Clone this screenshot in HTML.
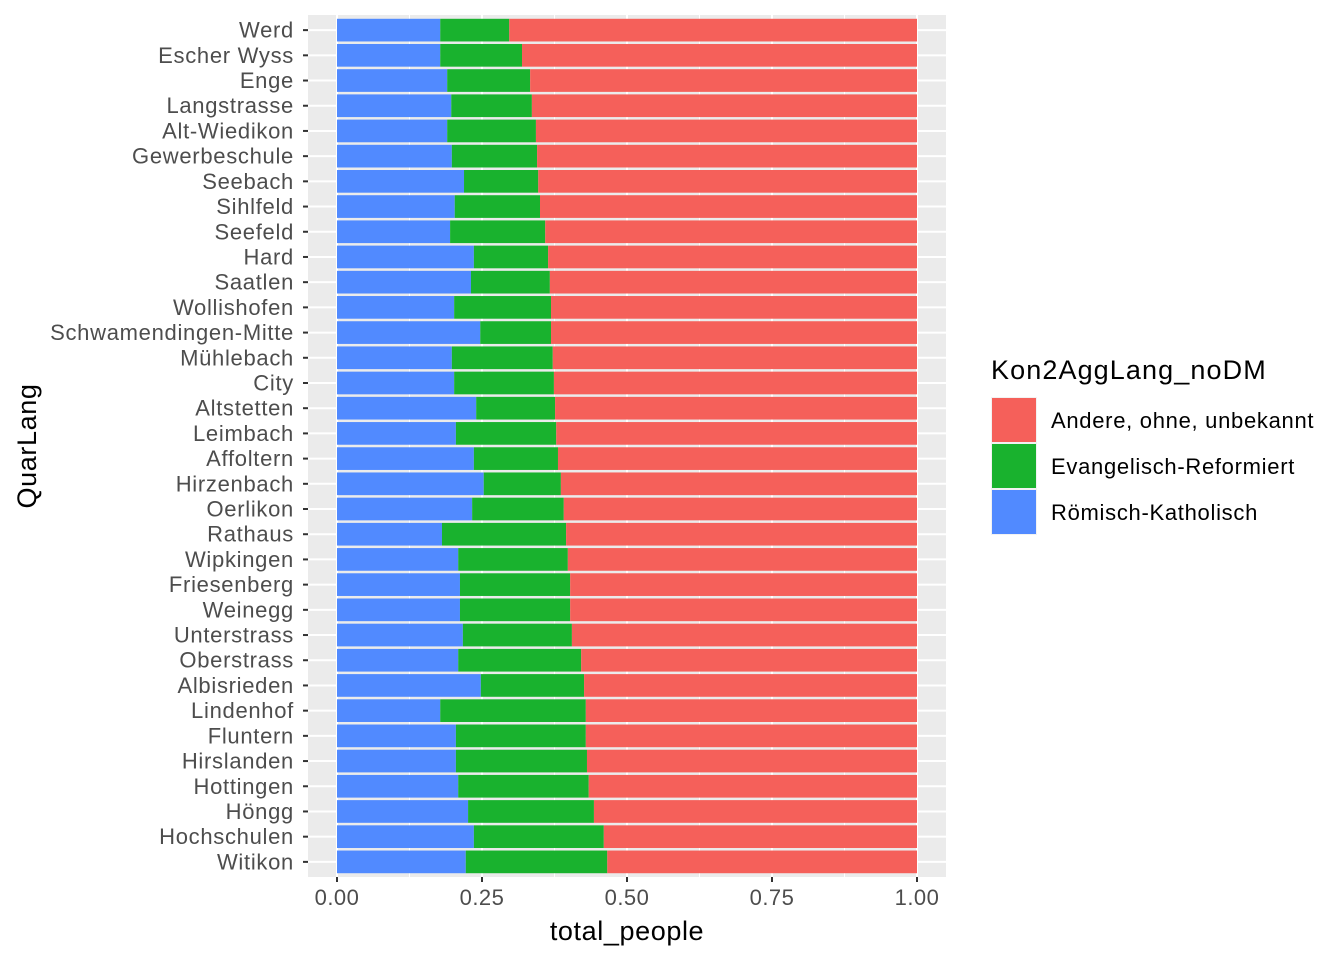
<!DOCTYPE html>
<html><head><meta charset="utf-8"><style>
body{margin:0;background:#fff;}
svg text{font-family:"Liberation Sans",Arial,sans-serif;}
</style></head><body>
<svg id="chart" width="1344" height="960" xmlns="http://www.w3.org/2000/svg"></svg>
<script>
const categories=["Werd","Escher Wyss","Enge","Langstrasse","Alt-Wiedikon","Gewerbeschule","Seebach","Sihlfeld","Seefeld","Hard","Saatlen","Wollishofen","Schwamendingen-Mitte","Mühlebach","City","Altstetten","Leimbach","Affoltern","Hirzenbach","Oerlikon","Rathaus","Wipkingen","Friesenberg","Weinegg","Unterstrass","Oberstrass","Albisrieden","Lindenhof","Fluntern","Hirslanden","Hottingen","Höngg","Hochschulen","Witikon"];
const katholisch=[0.178,0.178,0.190,0.197,0.190,0.198,0.219,0.203,0.195,0.236,0.231,0.202,0.247,0.198,0.202,0.240,0.205,0.236,0.253,0.233,0.181,0.209,0.212,0.212,0.217,0.209,0.248,0.178,0.205,0.205,0.209,0.226,0.236,0.222];
const reformiert=[0.119,0.141,0.143,0.139,0.153,0.147,0.128,0.147,0.164,0.128,0.136,0.167,0.122,0.174,0.172,0.136,0.173,0.145,0.133,0.158,0.214,0.189,0.190,0.190,0.188,0.212,0.178,0.251,0.224,0.226,0.225,0.217,0.224,0.244];
const xTicks=[0,0.25,0.5,0.75,1];
const xTickLabels=["0.00","0.25","0.50","0.75","1.00"];
const legendLabels=["Andere, ohne, unbekannt","Evangelisch-Reformiert","Römisch-Katholisch"];
const redC="#F5605A",greenC="#19B22E",blueC="#518AFF";
const svg=document.getElementById('chart');const NS="http://www.w3.org/2000/svg";
function mk(t,a,p){const e=document.createElementNS(NS,t);for(const k in a)e.setAttribute(k,a[k]);(p||svg).appendChild(e);return e;}
const PL=308,PR=946,PT=15,PB=877;
const x=v=>337+v*580;
const band=(PB-PT)/(categories.length-1+1.2);
const y=i=>PT+(0.6+i)*band;
const bg=mk('rect',{x:PL,y:PT,width:PR-PL,height:PB-PT,fill:'#EBEBEB'});


[0.125,0.375,0.625,0.875].forEach(v=>{mk('line',{x1:x(v),x2:x(v),y1:PT,y2:PB,stroke:'#fff','stroke-width':1});});
xTicks.forEach(v=>{mk('line',{x1:x(v),x2:x(v),y1:PT,y2:PB,stroke:'#fff','stroke-width':2});});
categories.forEach((c,i)=>{mk('line',{x1:PL,x2:PR,y1:y(i),y2:y(i),stroke:'#fff','stroke-width':2});});
const bh=band*0.9;
categories.forEach((c,i)=>{
  const k=katholisch[i],r=reformiert[i],yy=y(i)-bh/2;
  let e=mk('rect',{x:x(0),y:yy,width:x(k)-x(0),height:bh,fill:blueC});
  
  
  e=mk('rect',{x:x(k),y:yy,width:x(k+r)-x(k),height:bh,fill:greenC});
  
  
  e=mk('rect',{x:x(k+r),y:yy,width:x(1)-x(k+r),height:bh,fill:redC});
  
  
  mk('line',{x1:PL-5,x2:PL,y1:y(i),y2:y(i),stroke:'#333','stroke-width':2});
  const t=mk('text',{x:PL-14,y:y(i)+7.5,'text-anchor':'end','font-size':22,'letter-spacing':0.7,fill:'#4D4D4D'});t.textContent=c;
  
  
});
xTicks.forEach((v,i)=>{
  mk('line',{x1:x(v),x2:x(v),y1:PB,y2:PB+5,stroke:'#333','stroke-width':2});
  const t=mk('text',{x:x(v),y:PB+28,'text-anchor':'middle','font-size':22,'letter-spacing':0.5,fill:'#4D4D4D'});t.textContent=xTickLabels[i];
  
  
});
let t=mk('text',{x:(PL+PR)/2,y:940,'text-anchor':'middle','font-size':27,'letter-spacing':0.6,fill:'#000'});t.textContent='total_people';


t=mk('text',{x:0,y:0,'text-anchor':'middle','font-size':27,'letter-spacing':0.6,fill:'#000',transform:`translate(36,${(PT+PB)/2}) rotate(-90)`});t.textContent='QuarLang';


t=mk('text',{x:991,y:379,'font-size':27,'letter-spacing':1.1,fill:'#000'});t.textContent='Kon2AggLang_noDM';


[redC,greenC,blueC].forEach((c,i)=>{
  const yy=397+i*46;
  mk('rect',{x:991,y:yy,width:46,height:46,fill:'#F2F2F2'});
  const r=mk('rect',{x:992,y:yy+1,width:44,height:44,fill:c});
  
  
  const l=mk('text',{x:1051,y:yy+31,'font-size':22,'letter-spacing':0.7,fill:'#000'});l.textContent=legendLabels[i];
  
  
});
</script>
</body></html>
